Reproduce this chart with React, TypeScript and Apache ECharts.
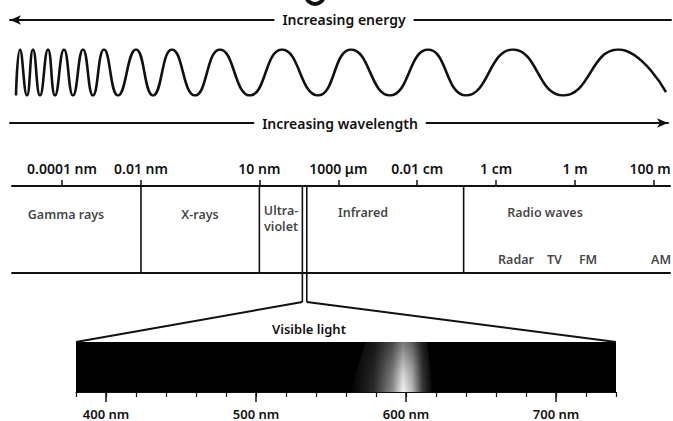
import React, { useEffect, useRef } from 'react';
import * as echarts from 'echarts';

const FONT = '"Noto Sans", "DejaVu Sans", sans-serif';
const INK = '#111111';
const WEIGHT = 600;

// ---------- values ----------
// Wave: x positions of the crests (+1) and troughs (-1) of the drawn wave
const waveX = [16, 20, 27, 33, 40, 48, 55, 64, 73, 83, 93, 104, 118, 136, 153, 172, 195, 220, 250, 282, 318, 351, 390, 428, 466, 513, 563, 618, 666];
const waveY = [-1, 1, -1, 1, -1, 1, -1, 1, -1, 1, -1, 1, -1, 1, -1, 1, -1, 1, -1, 1, -1, 1, -1, 1, -1, 1, -1, 1, -0.85];

// Arrow captions
const energyCaption = 'Increasing energy';
const wavelengthCaption = 'Increasing wavelength';

// Wavelength scale of the spectrum band (nm, logarithmic)
const scaleRangeNm = [5.4e-6, 2.54e11];
const scaleTickNm = [1e-4, 1e-2, 10, 1000, 1e5, 1e7, 1e9, 1e11];
const scaleTickLabels = ['0.0001 nm', '0.01 nm', '10 nm', '1000 μm', '0.01 cm', '1 cm', '1 m', '100 m'];

// Region boundaries (nm)
const bandBoundaryNm = [0.01, 10, 1.5e6];
const visibleEdgeNm = [123, 159];

// Region names and where they sit (nm, row in band units)
const bandNames = ['Gamma rays', 'X-rays', 'Ultra-\nviolet', 'Infrared', 'Radio waves', 'Radar', 'TV', 'FM', 'AM'];
const bandNameNm = [1.26e-4, 0.314, 35.4, 4240, 1.73e8, 3.18e7, 3.01e8, 2.13e9, 1.51e11];
const bandNameRow = [2.03, 2.03, 1.88, 2.07, 2.07, 0.45, 0.45, 0.45, 0.45];

// Visible light strip (nm, linear)
const visibleCaption = 'Visible light';
const visibleRangeNm = [380, 740];
const visibleMinorStepNm = 20;
const visibleLabelNm = [400, 500, 600, 700];
const glowTopNm = [573, 614];
const glowBottomNm = [563, 618];
const glowPeakNm = 598;

function tickLabel(v: number): string {
  const i = scaleTickNm.findIndex((t) => Math.abs(Math.log10(t) - Math.log10(v)) < 0.02);
  if (i < 0) return '';
  // the last label sits against the right edge of the picture
  return i === scaleTickNm.length - 1 ? `{edge|${scaleTickLabels[i]}}` : scaleTickLabels[i];
}

export default function App() {
  const ref = useRef<HTMLDivElement>(null);

  useEffect(() => {
    if (!ref.current) return;
    const chart = echarts.init(ref.current, undefined, { renderer: 'svg' });

    const arrowAxis = (gridIndex: number, symbol: string[]) => ({
      gridIndex,
      type: 'value',
      min: 0,
      max: 1,
      position: 'top',
      axisLine: {
        show: true,
        onZero: false,
        symbol,
        symbolSize: [7, 11],
        lineStyle: { color: INK, width: 2 },
      },
      axisTick: { show: false },
      axisLabel: { show: false },
      splitLine: { show: false },
    });

    const peakPos = (glowPeakNm - glowBottomNm[0]) / (glowBottomNm[1] - glowBottomNm[0]);

    const option: any = {
      animation: false,
      backgroundColor: '#ffffff',
      textStyle: { fontFamily: FONT, color: INK, fontWeight: WEIGHT },
      grid: [
        { left: 10, right: 2, top: 20, height: 10, outerBoundsMode: 'none' },
        { left: 0, right: 0, top: 49.5, height: 46, outerBoundsMode: 'none' },
        { left: 10, right: 5, top: 123, height: 10, outerBoundsMode: 'none' },
        { left: 12, right: 3, top: 186, height: 116, outerBoundsMode: 'none' },
        {
          left: 76, right: 57, top: 342, height: 50, outerBoundsMode: 'none',
          show: true, backgroundColor: '#000000', borderWidth: 0,
        },
      ],
      xAxis: [
        arrowAxis(0, ['arrow', 'none']),
        { gridIndex: 1, type: 'value', min: 0, max: 673, show: false },
        arrowAxis(2, ['none', 'arrow']),
        {
          gridIndex: 3,
          type: 'log',
          min: scaleRangeNm[0],
          max: scaleRangeNm[1],
          position: 'top',
          axisLine: { show: true, onZero: false, lineStyle: { color: INK, width: 2 } },
          axisTick: { show: true, customValues: scaleTickNm, length: 6, lineStyle: { color: INK, width: 1.5 } },
          axisLabel: {
            show: true,
            customValues: scaleTickNm,
            formatter: (v: number) => tickLabel(v),
            margin: 11,
            fontSize: 14,
            color: INK,
            fontFamily: FONT,
            fontWeight: WEIGHT,
            rich: {
              edge: {
                fontSize: 14,
                color: INK,
                fontFamily: FONT,
                fontWeight: WEIGHT,
                padding: [0, 8, 0, 0],
              },
            },
          },
          splitLine: { show: false },
          minorTick: { show: false },
        },
        {
          gridIndex: 3,
          type: 'log',
          min: scaleRangeNm[0],
          max: scaleRangeNm[1],
          position: 'bottom',
          axisLine: { show: true, onZero: true, lineStyle: { color: INK, width: 2 } },
          axisTick: { show: false },
          axisLabel: { show: false },
          splitLine: { show: false },
        },
        {
          gridIndex: 4,
          type: 'value',
          min: visibleRangeNm[0],
          max: visibleRangeNm[1],
          interval: visibleMinorStepNm,
          position: 'bottom',
          axisLine: { show: true, onZero: false, lineStyle: { color: INK, width: 1 } },
          axisTick: { show: true, length: 5, lineStyle: { color: INK, width: 1.2 } },
          axisLabel: { show: false },
          splitLine: { show: false },
        },
        {
          gridIndex: 4,
          type: 'value',
          min: visibleRangeNm[0],
          max: visibleRangeNm[1],
          position: 'bottom',
          axisLine: { show: false, onZero: false },
          axisTick: { show: true, customValues: visibleLabelNm, length: 10, lineStyle: { color: INK, width: 1.5 } },
          axisLabel: {
            show: true,
            customValues: visibleLabelNm,
            formatter: '{value} nm',
            margin: 15,
            fontSize: 13,
            color: INK,
            fontFamily: FONT,
            fontWeight: WEIGHT,
          },
          splitLine: { show: false },
        },
      ],
      yAxis: [
        { gridIndex: 0, type: 'value', min: 0, max: 1, show: false },
        { gridIndex: 1, type: 'value', min: -1, max: 1, show: false },
        { gridIndex: 2, type: 'value', min: 0, max: 1, show: false },
        { gridIndex: 3, type: 'value', min: -1, max: 3, show: false },
        { gridIndex: 4, type: 'value', min: 0, max: 1, show: false },
      ],
      series: [
        {
          type: 'line',
          xAxisIndex: 1,
          yAxisIndex: 1,
          data: waveX.map((x, i) => [x, waveY[i]]),
          smooth: 0.5,
          showSymbol: false,
          lineStyle: { color: INK, width: 2.6 },
          silent: true,
        },
        ...bandBoundaryNm.map((b) => ({
          type: 'line',
          xAxisIndex: 3,
          yAxisIndex: 3,
          data: [[b, 0], [b, 3]],
          showSymbol: false,
          lineStyle: { color: INK, width: 1.6 },
          silent: true,
        })),
        ...visibleEdgeNm.map((b) => ({
          type: 'line',
          xAxisIndex: 3,
          yAxisIndex: 3,
          data: [[b, -1], [b, 3]],
          showSymbol: false,
          lineStyle: { color: INK, width: 1.6 },
          silent: true,
        })),
        {
          type: 'scatter',
          xAxisIndex: 3,
          yAxisIndex: 3,
          symbolSize: 1,
          itemStyle: { color: 'rgba(0,0,0,0)' },
          data: bandNames.map((n, i) => ({ name: n, value: [bandNameNm[i], bandNameRow[i]] })),
          label: {
            show: true,
            position: 'inside',
            formatter: '{b}',
            fontSize: 12.5,
            lineHeight: 16,
            color: INK,
            fontFamily: FONT,
            fontWeight: WEIGHT,
            align: 'center',
          },
          silent: true,
        },
        {
          type: 'custom',
          xAxisIndex: 5,
          yAxisIndex: 4,
          data: [[glowPeakNm, 0.5]],
          silent: true,
          renderItem: (_params: any, api: any) => {
            const tl = api.coord([glowTopNm[0], 1]);
            const tr = api.coord([glowTopNm[1], 1]);
            const br = api.coord([glowBottomNm[1], 0]);
            const bl = api.coord([glowBottomNm[0], 0]);
            const pts = [tl, tr, br, bl];
            return {
              type: 'group',
              children: [
                {
                  type: 'polygon',
                  shape: { points: pts },
                  style: {
                    fill: new echarts.graphic.LinearGradient(0, 0, 1, 0, [
                      { offset: 0, color: '#000000' },
                      { offset: peakPos * 0.45, color: '#2c2c2c' },
                      { offset: peakPos * 0.8, color: '#8c8c8c' },
                      { offset: peakPos, color: '#f4f4f4' },
                      { offset: peakPos + (1 - peakPos) * 0.3, color: '#bdbdbd' },
                      { offset: peakPos + (1 - peakPos) * 0.65, color: '#3a3a3a' },
                      { offset: 1, color: '#000000' },
                    ]),
                  },
                },
                {
                  type: 'polygon',
                  shape: { points: pts },
                  style: {
                    fill: new echarts.graphic.LinearGradient(0, 0, 0, 1, [
                      { offset: 0, color: 'rgba(0,0,0,0.5)' },
                      { offset: 0.6, color: 'rgba(0,0,0,0.15)' },
                      { offset: 1, color: 'rgba(0,0,0,0)' },
                    ]),
                  },
                },
              ],
            };
          },
        },
      ],
    };

    chart.setOption(option);

    const px = (g: number, p: number[]) => chart.convertToPixel({ gridIndex: g } as any, p) as number[];
    const apexL = px(3, [visibleEdgeNm[0], -1]);
    const apexR = px(3, [visibleEdgeNm[1], -1]);
    const cornerL = px(4, [visibleRangeNm[0], 1]);
    const cornerR = px(4, [visibleRangeNm[1], 1]);
    const energyY = px(0, [0, 1])[1];
    const wavelengthY = px(2, [0, 1])[1];

    const caption = (text: string, x: number, y: number, size: number, bg: boolean) => ({
      type: 'text',
      x,
      y,
      z: 100,
      silent: true,
      style: {
        text,
        fill: INK,
        font: `${WEIGHT} ${size}px ${FONT}`,
        align: 'center',
        verticalAlign: 'middle',
        backgroundColor: bg ? '#ffffff' : undefined,
        padding: bg ? [2, 8] : 0,
      },
    });

    chart.setOption({
      graphic: [
        {
          type: 'line',
          shape: { x1: apexL[0], y1: apexL[1], x2: cornerL[0], y2: cornerL[1] },
          style: { stroke: INK, lineWidth: 2 },
          silent: true,
        },
        {
          type: 'line',
          shape: { x1: apexR[0], y1: apexR[1], x2: cornerR[0], y2: cornerR[1] },
          style: { stroke: INK, lineWidth: 2 },
          silent: true,
        },
        caption(energyCaption, 344, energyY - 1, 14, true),
        caption(wavelengthCaption, 340, wavelengthY, 14, true),
        caption(visibleCaption, 309, 329, 13, false),
        // bottom of a large glyph cut off by the top edge of the picture
        {
          type: 'arc',
          shape: { cx: 315, cy: -5, r: 9, startAngle: 0.15, endAngle: Math.PI - 0.15, clockwise: true },
          style: { stroke: INK, lineWidth: 4, fill: null },
          silent: true,
        },
      ],
    });

    return () => {
      chart.dispose();
    };
  }, []);

  return (
    <div
      ref={ref}
      style={{ position: 'fixed', left: 0, top: 0, width: 673, height: 421, background: '#ffffff' }}
    />
  );
}
